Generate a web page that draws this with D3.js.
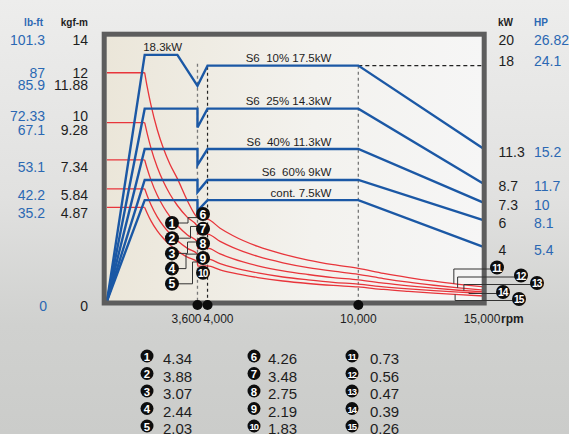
<!DOCTYPE html>
<html><head><meta charset="utf-8">
<script src="https://cdn.jsdelivr.net/npm/d3@7"></script>
<style>
html,body{margin:0;padding:0;overflow:hidden;background:#dcdcda}
svg{display:block}
text{font-family:"Liberation Sans",Arial,Helvetica,sans-serif}
</style>
</head><body>
<svg id="c" width="569" height="434"></svg>
<script>
// ---------------- data ----------------
const rpmTicks = [3600, 4000, 10000, 15000];
const rpmTickLabels = ["3,600", "4,000", "10,000", "15,000"];
const kgfTicks = [14, 12, 11.88, 10, 9.28, 7.34, 5.84, 4.87, 0];
const lbftTicks = ["101.3", "87", "85.9", "72.33", "67.1", "53.1", "42.2", "35.2", "0"];
const kwTicks = [20, 18, 11.3, 8.7, 7.3, 6, 4];
const hpTicks = ["26.82", "24.1", "15.2", "11.7", "10", "8.1", "5.4"];
const seriesLabels = ["S6  10% 17.5kW", "S6  25% 14.3kW", "S6  40% 11.3kW", "S6  60% 9kW", "cont. 7.5kW"];
const seriesRated = [17.5, 14.3, 11.3, 9, 7.5];
const peakLabel = "18.3kW";
const peakPower = 18.3;

// power curves: [rpm, kW]
const powerS6_10 = [[0,0],[1500,18.3],[2800,18.3],[3600,16.0],[4000,17.5],[10000,17.5],[15000,11.3]];
const powerS6_25 = [[0,0],[1500,14.3],[3600,14.3],[3600,12.9],[4000,14.3],[10000,14.3],[15000,8.7]];
const powerS6_40 = [[0,0],[1500,11.3],[3600,11.3],[3600,10.1],[4000,11.3],[10000,11.3],[15000,7.3]];
const powerS6_60 = [[0,0],[1500,9.0],[3600,9.0],[3600,8.1],[4000,9.0],[10000,9.0],[15000,6.0]];
const powerCont  = [[0,0],[1500,7.5],[3600,7.5],[3600,6.7],[4000,7.5],[10000,7.5],[15000,4.0]];

// torque curves (kgf-m) sampled at torqueRpm
const torqueRpm   = [0,1500,1600,1750,2000,2250,2500,2800,3200,3600,3610,3800,4000,4500,5000,6000,7000,8000,9000,10000,11000,12000,13000,14000,15000];
const torqueS6_10 = [11.88,11.88,11.14,10.19,8.91,7.92,7.13,6.37,5.22,4.34,4.33,4.29,4.26,3.79,3.41,2.84,2.44,2.13,1.89,1.70,1.44,1.22,1.03,0.87,0.73];
const torqueS6_25 = [9.28,9.28,8.71,7.96,6.96,6.19,5.57,4.97,4.35,3.88,3.49,3.49,3.48,3.10,2.79,2.32,1.99,1.74,1.55,1.39,1.17,0.98,0.82,0.68,0.56];
const torqueS6_40 = [7.34,7.34,6.88,6.29,5.50,4.89,4.40,3.93,3.44,3.07,2.73,2.74,2.75,2.45,2.20,1.83,1.57,1.38,1.22,1.10,0.93,0.79,0.67,0.56,0.47];
const torqueS6_60 = [5.84,5.84,5.48,5.01,4.38,3.90,3.51,3.13,2.74,2.44,2.19,2.19,2.19,1.95,1.75,1.46,1.25,1.10,0.97,0.88,0.74,0.63,0.54,0.46,0.39];
const torqueCont  = [4.87,4.87,4.57,4.17,3.65,3.25,2.92,2.61,2.28,2.03,1.81,1.82,1.83,1.62,1.46,1.22,1.04,0.91,0.81,0.73,0.60,0.50,0.41,0.33,0.26];

// numbered torque points
const pointValues = [4.34,3.88,3.07,2.44,2.03, 4.26,3.48,2.75,2.19,1.83, 0.73,0.56,0.47,0.39,0.26];
const pointRpmGroups = [3600, 4000, 15000];

// ---------------- layout ----------------
const powerSeries = [powerS6_10, powerS6_25, powerS6_40, powerS6_60, powerCont];
const torqueSeries = [torqueS6_10, torqueS6_25, torqueS6_40, torqueS6_60, torqueCont];

const svg = d3.select("#c");
const W = 569, H = 434;
const x = d3.scaleLinear().domain([0, 15000]).range([107, 484]);
const yT = d3.scaleLinear().domain([0, 14]).range([301, 32]);
const yP = d3.scaleLinear().domain([0, 20]).range([301, 32]);
const yTlab = d3.scaleLinear().domain([0, 14]).range([306, 40]);

const BLUE = "#1b58a5", RED = "#e8353b", LBL_BLUE = "#2b68b3", INK = "#1e1e1e";

const defs = svg.append("defs");
const bg = defs.append("linearGradient").attr("id","bg").attr("x1",0).attr("y1",0).attr("x2",0).attr("y2",1);
bg.append("stop").attr("offset","0%").attr("stop-color","#ededec");
bg.append("stop").attr("offset","45%").attr("stop-color","#e1e1e0");
bg.append("stop").attr("offset","75%").attr("stop-color","#d0d1cf");
bg.append("stop").attr("offset","100%").attr("stop-color","#cbccca");
const pf = defs.append("linearGradient").attr("id","pf").attr("x1",0).attr("y1",0).attr("x2",1).attr("y2",0);
pf.append("stop").attr("offset","0%").attr("stop-color","#ebe6d9");
pf.append("stop").attr("offset","55%").attr("stop-color","#f3f2ee");
pf.append("stop").attr("offset","100%").attr("stop-color","#f6f6f6");

svg.append("rect").attr("width",W).attr("height",H).attr("fill","url(#bg)");

// plot frame geometry
const fx0 = 104.2, fy0 = 34.2, fx1 = 484.2, fy1 = 303;
svg.append("rect").attr("x",fx0).attr("y",fy0).attr("width",fx1-fx0).attr("height",fy1-fy0)
  .attr("fill","url(#pf)");

// dashed reference lines
const topY = yP(seriesRated[0]);
svg.append("line").attr("x1",x(3600)).attr("x2",x(3600)).attr("y1",topY-2).attr("y2",fy1)
  .attr("stroke","#777").attr("stroke-width",1.3).attr("stroke-dasharray","3,3");
svg.append("line").attr("x1",x(4000)).attr("x2",x(4000)).attr("y1",topY+1).attr("y2",fy1)
  .attr("stroke","#222").attr("stroke-width",1.2).attr("stroke-dasharray","3,3");
svg.append("line").attr("x1",x(10000)).attr("x2",x(10000)).attr("y1",topY).attr("y2",fy1)
  .attr("stroke","#777").attr("stroke-width",1.3).attr("stroke-dasharray","3,3");
svg.append("line").attr("x1",x(10000)).attr("x2",fx1).attr("y1",topY).attr("y2",topY)
  .attr("stroke","#222").attr("stroke-width",1.2).attr("stroke-dasharray","4,3");

// red torque curves
const linT = d3.line().x(d=>x(d[0])).y(d=>yT(d[1]));
const monoT = d3.line().x(d=>x(d[0])).y(d=>yT(d[1])).curve(d3.curveMonotoneX);
torqueSeries.forEach(ts=>{
  const pts = torqueRpm.map((r,i)=>[r, ts[i]]);
  svg.append("path").attr("d", linT(pts.slice(0,2))).attr("fill","none").attr("stroke",RED).attr("stroke-width",1.3);
  svg.append("path").attr("d", monoT(pts.slice(1))).attr("fill","none").attr("stroke",RED).attr("stroke-width",1.3);
});

// blue power curves
const linP = d3.line().x(d=>x(d[0])).y(d=>yP(d[1]));
powerSeries.forEach(ps=>{
  svg.append("path").attr("d", linP(ps)).attr("fill","none").attr("stroke",BLUE)
    .attr("stroke-width",2.4).attr("stroke-linejoin","miter");
});

// frame
svg.append("rect").attr("x",fx0).attr("y",fy0).attr("width",fx1-fx0).attr("height",fy1-fy0)
  .attr("fill","none").attr("stroke","#5d5d5d").attr("stroke-width",5);

// series labels
seriesLabels.forEach((t,i)=>{
  svg.append("text").attr("x", x(10000)-27).attr("y", yP(seriesRated[i])-3.5)
    .attr("text-anchor","end").attr("font-size",11.5).attr("fill",INK)
    .style("white-space","pre").text(t);
});
svg.append("text").attr("x", x(1500)-1.5).attr("y", yP(peakPower)-3.5)
  .attr("font-size",11.5).attr("fill",INK).text(peakLabel);

// x axis dots + labels
rpmTicks.slice(0,3).forEach(r=>{
  svg.append("circle").attr("cx",x(r)).attr("cy",305).attr("r",5).attr("fill","#0c0c0c");
});
// spread close labels apart (positions must be ascending)
function spread(pos, gap){
  const p = pos.slice();
  for(let it=0; it<50; it++){
    for(let i=1;i<p.length;i++){
      const d = p[i]-p[i-1];
      if(d<gap){ const s=(gap-d)/2; p[i-1]-=s; p[i]+=s; }
    }
  }
  return p;
}
const xl = spread(rpmTicks.map(x), 32);
rpmTicks.forEach((r,i)=>{
  svg.append("text").attr("x", xl[i] - (i===3?2:0)).attr("y", 323).attr("text-anchor","middle")
    .attr("font-size",12).attr("fill",INK).text(rpmTickLabels[i]);
});
svg.append("text").attr("x", xl[3]+17).attr("y",323).attr("font-size",12).attr("font-weight","bold")
  .attr("fill",INK).text("rpm");

// left axis labels
svg.append("text").attr("x",43).attr("y",26).attr("text-anchor","end").attr("font-size",10)
  .attr("font-weight","bold").attr("fill",LBL_BLUE).text("lb-ft");
svg.append("text").attr("x",88).attr("y",26).attr("text-anchor","end").attr("font-size",10)
  .attr("font-weight","bold").attr("fill",INK).text("kgf-m");
const ly = spread(kgfTicks.map(yTlab), 12);
kgfTicks.forEach((v,i)=>{
  const yy = ly[i] + 5;
  svg.append("text").attr("x",88).attr("y",yy).attr("text-anchor","end").attr("font-size",14)
    .attr("fill",INK).text(String(v));
  svg.append("text").attr("x", v===0?47:45).attr("y",yy).attr("text-anchor","end").attr("font-size",14)
    .attr("fill",LBL_BLUE).text(lbftTicks[i]);
});

// right axis labels
svg.append("text").attr("x",498).attr("y",26).attr("font-size",10).attr("font-weight","bold")
  .attr("fill",INK).text("kW");
svg.append("text").attr("x",534).attr("y",26).attr("font-size",10).attr("font-weight","bold")
  .attr("fill",LBL_BLUE).text("HP");
const ry = kwTicks.map(v=>Math.max(40, yP(v)+2.5));
kwTicks.forEach((v,i)=>{
  const yy = ry[i] + 5;
  svg.append("text").attr("x",498.5).attr("y",yy).attr("font-size",14).attr("fill",INK).text(String(v));
  svg.append("text").attr("x",534).attr("y",yy).attr("font-size",14).attr("fill",LBL_BLUE).text(hpTicks[i]);
});

// numbered markers
function marker(cx, cy, n, r){
  const g = svg.append("g");
  g.append("circle").attr("cx",cx).attr("cy",cy).attr("r",r).attr("fill","#0d0d0d");
  g.append("text").attr("x",cx + (n>=10?-0.3:0)).attr("y",cy+0.5).attr("text-anchor","middle")
    .attr("dominant-baseline","central").attr("font-size", n>=10 ? r*1.45 : r*1.75)
    .attr("font-weight","bold").attr("fill","#fff")
    .attr("letter-spacing", n>=10 ? -1 : 0).text(String(n));
}
function torqueAt(ts, rpm){
  const i = d3.bisectRight(torqueRpm, rpm) - 1;
  const j = Math.min(i+1, torqueRpm.length-1);
  const t = (rpm - torqueRpm[i]) / (torqueRpm[j]-torqueRpm[i] || 1);
  return ts[i] + (ts[j]-ts[i])*t;
}
const conn = d3.line();
const R = 7;
// group 1-5 (at 3600 rpm)
const g1x = x(pointRpmGroups[0]) - 25.5;
const g1mid = [188, 190.5, 187.5, 186, 192.5];
for(let k=0;k<5;k++){
  const cy = 223 + 15.2*k;
  const ty = yT(pointValues[k]);
  svg.append("path").attr("d", conn([[g1x, cy],[g1mid[k], cy],[g1mid[k], ty],[x(pointRpmGroups[0]), ty]]))
    .attr("fill","none").attr("stroke","#333").attr("stroke-width",1);
  marker(g1x, cy, k+1, R);
}
// group 6-10 (at 4000 rpm)
const g2x = x(pointRpmGroups[1]) - 4.5;
for(let k=0;k<5;k++){
  marker(g2x, 214 + 14.7*k, k+6, R);
}
// group 11-15 (at 15000 rpm)
const g3dx = [13, 37, 53, 19, 35];
const g3y = [267.5, 275.5, 283, 292, 299];
const g3anchor = [13800, 13950, 14200, 14400, 13850];
for(let k=0;k<5;k++){
  const cx = x(pointRpmGroups[2]) + g3dx[k];
  const ax = x(g3anchor[k]);
  const ay = yT(torqueAt(torqueSeries[k], g3anchor[k]));
  svg.append("path").attr("d", conn([[cx, g3y[k]+1.5],[ax, g3y[k]+1.5],[ax, ay]]))
    .attr("fill","none").attr("stroke","#333").attr("stroke-width",1);
}
for(let k=0;k<5;k++){
  marker(x(pointRpmGroups[2]) + g3dx[k], g3y[k], k+11, R);
}

// bottom legend
const colCx = [147, 254, 352], colTx = [163, 268, 370];
pointValues.forEach((v,i)=>{
  const c = Math.floor(i/5), rI = i%5;
  const cy = 356 + 17.5*rI;
  marker(colCx[c], cy, i+1, 6.5);
  svg.append("text").attr("x", colTx[c]).attr("y", cy+8).attr("font-size",15).attr("fill",INK)
    .text(v.toFixed(2));
});
</script>
</body></html>
